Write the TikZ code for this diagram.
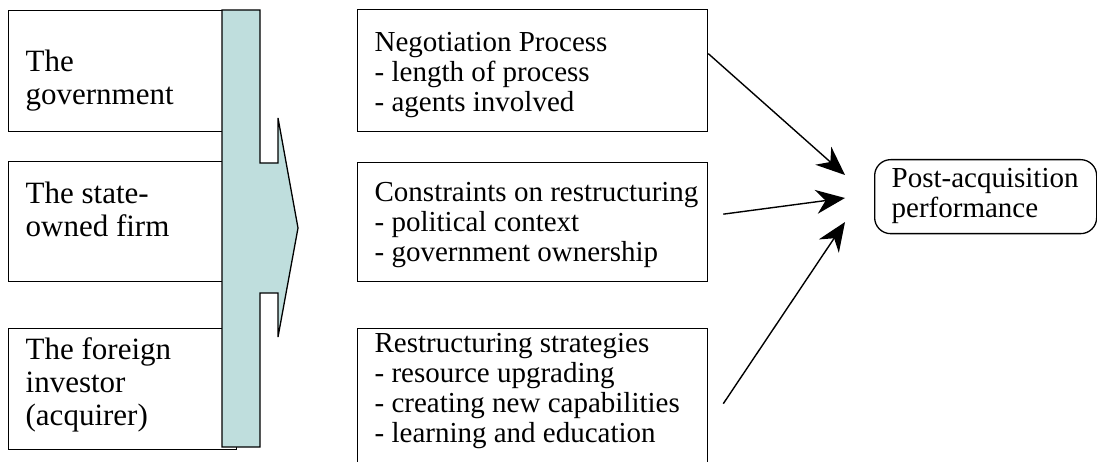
\documentclass[tikz,border=0pt]{standalone}
\usepackage{fontspec}
\setmainfont{Liberation Serif}
\usetikzlibrary{arrows.meta}
\definecolor{shaft}{RGB}{191,222,221}

\begin{document}
\begin{tikzpicture}[x=1pt,y=-1pt,line width=1.3pt,
  box/.style={draw,rectangle,inner sep=0pt,anchor=north west},
  lefttxt/.style={anchor=north west,inner sep=0pt,align=left,font=\fontsize{31}{33}\selectfont},
  midtxt/.style={anchor=north west,inner sep=0pt,align=left,font=\fontsize{29}{30}\selectfont},
  link/.style={-{Stealth[length=29pt,width=24pt]},line width=1.4pt}]
\clip (0,0) rectangle (1097,462);
\node[box,minimum width=228pt,minimum height=121pt] (gov) at (8,10) {};
\node[box,minimum width=228pt,minimum height=120pt] (firm) at (8,161) {};
\node[box,minimum width=228pt,minimum height=121pt] (inv) at (8,328) {};
\node[lefttxt] (govt) at (25,49) {The\\government};
\node[lefttxt] (firmt) at (25,181) {The state-\\owned firm};
\node[lefttxt] (invt) at (25,337) {The foreign\\investor\\(acquirer)};
\draw[fill=shaft] (222,10) -- (260,10) -- (260,163) -- (278,163) -- (278,118)
   -- (298,228) -- (278,337) -- (278,293) -- (260,293) -- (260,447)
   -- (222,447) -- cycle;
\node[box,minimum width=350pt,minimum height=122pt] (nego) at (357,9) {};
\node[box,minimum width=350pt,minimum height=119pt] (cons) at (357,162) {};
\node[box,minimum width=350pt,minimum height=147pt] (restr) at (357,328) {};
\node[midtxt] (negot) at (374,32) {Negotiation Process\\- length of process\\- agents involved};
\node[midtxt] (const) at (374,182) {Constraints on restructuring\\- political context\\- government ownership};
\node[midtxt] (restrt) at (374,333) {Restructuring strategies\\- resource upgrading\\- creating new capabilities\\- learning and education};
\node[box,rounded corners=16pt,minimum width=222pt,minimum height=74pt] (post) at (874,159) {};
\node[midtxt] (postt) at (891,168) {Post-acquisition\\performance};
\coordinate (h1) at (845,175);
\coordinate (h2) at (845,198);
\coordinate (h3) at (845,222);
\draw[link] ([yshift=17pt]nego.east) -- (h1);
\draw[link] ([xshift=15pt,yshift=8pt]cons.east) -- (h2);
\draw[link] ([xshift=15pt,yshift=-1.5pt]restr.east) -- (h3);
\end{tikzpicture}
\end{document}
